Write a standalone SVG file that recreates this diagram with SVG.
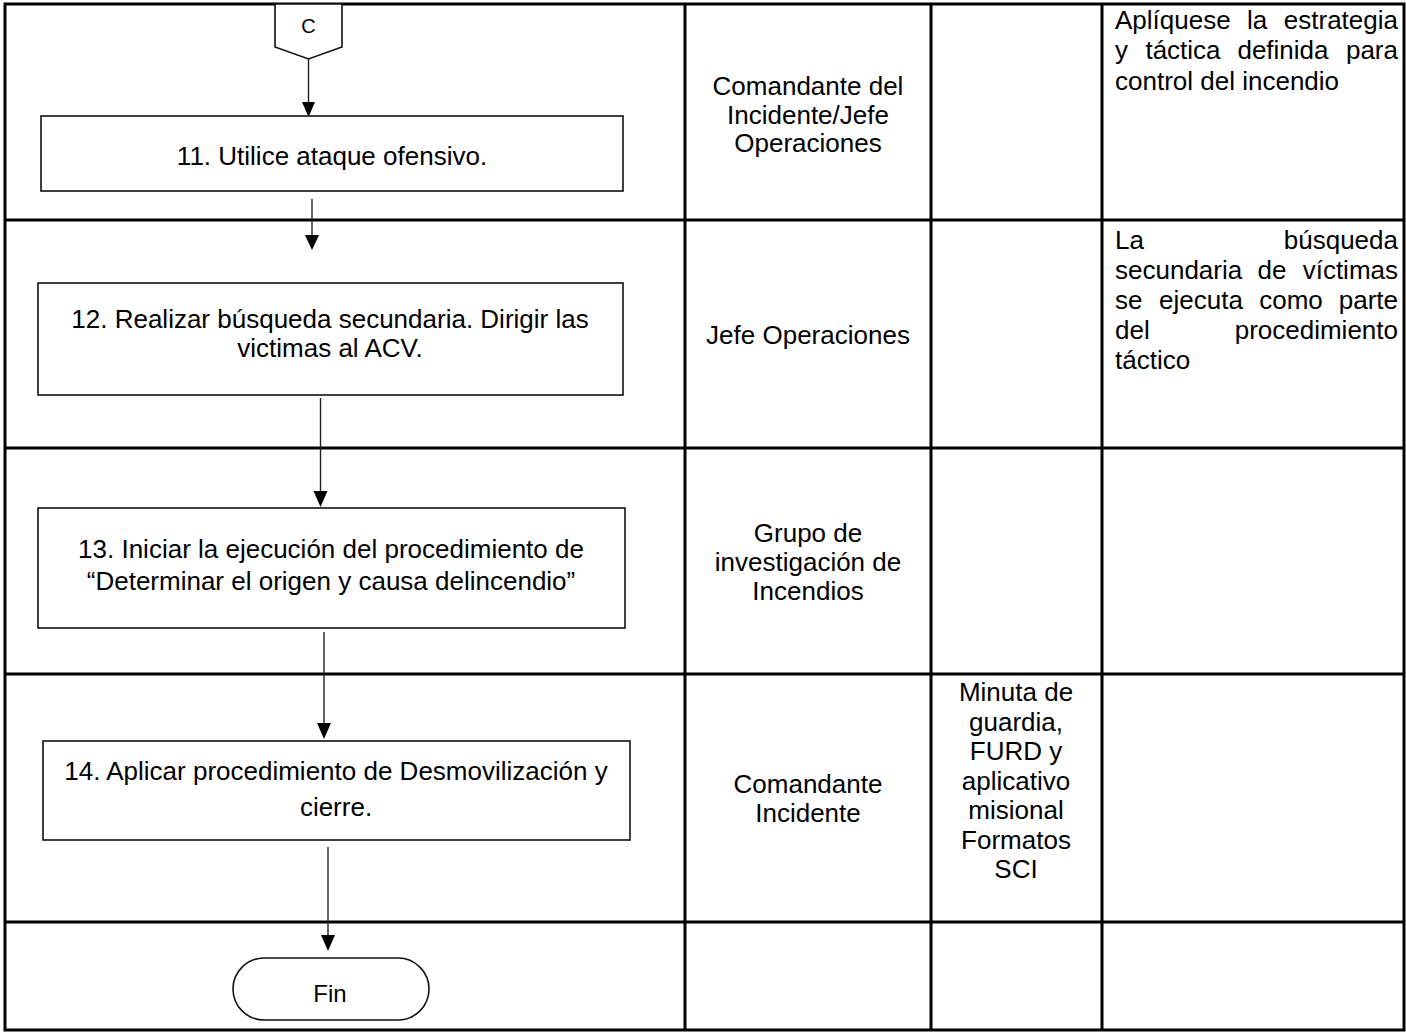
<svg xmlns="http://www.w3.org/2000/svg" width="1406" height="1032" viewBox="0 0 1406 1032">
<style>
text{font-family:"Liberation Sans",Arial,sans-serif;font-size:26px;fill:#000}
.c{text-anchor:middle}
.e{text-anchor:end}
.grid{stroke:#000;stroke-width:3;fill:none}
.box{fill:#fff;stroke:#111;stroke-width:1.6}
.ln{stroke:#222;stroke-width:1.4;fill:none}
.ah{fill:#000}
</style>
<rect width="1406" height="1032" fill="#fff"/>
<g id="table">
<rect class="grid" x="5" y="4" width="1399" height="1026"/>
<line class="grid" x1="685" y1="4" x2="685" y2="1030"/>
<line class="grid" x1="931" y1="4" x2="931" y2="1030"/>
<line class="grid" x1="1102" y1="4" x2="1102" y2="1030"/>
<line class="grid" x1="5" y1="220" x2="1404" y2="220"/>
<line class="grid" x1="5" y1="448" x2="1404" y2="448"/>
<line class="grid" x1="5" y1="674" x2="1404" y2="674"/>
<line class="grid" x1="5" y1="922" x2="1404" y2="922"/>
</g>
<g id="connectors">
<line class="ln" x1="308.5" y1="59" x2="308.5" y2="102"/>
<polygon class="ah" points="302,102 315,102 308.5,117"/>
<line class="ln" x1="312" y1="199" x2="312" y2="235"/>
<polygon class="ah" points="305,235 319,235 312,250"/>
<line class="ln" x1="320.5" y1="398" x2="320.5" y2="491"/>
<polygon class="ah" points="313.5,491 327.5,491 320.5,507"/>
<line class="ln" x1="324" y1="632" x2="324" y2="723"/>
<polygon class="ah" points="317,723 331,723 324,739"/>
<line class="ln" x1="328" y1="847" x2="328" y2="935"/>
<polygon class="ah" points="321,935 335,935 328,951"/>
</g>
<g id="nodeC">
<polygon points="275,4 342,4 342,47 308.5,59 275,47" fill="#fff" stroke="#111" stroke-width="1.6"/>
<text class="c" x="308.5" y="33" style="font-size:20px">C</text>
</g>
<g id="step11">
<rect class="box" x="41" y="116" width="582" height="75"/>
<text class="c" x="332" y="165">11. Utilice ataque ofensivo.</text>
</g>
<g id="step12">
<rect class="box" x="38" y="283" width="585" height="112"/>
<text class="c" x="330" y="328">12. Realizar búsqueda secundaria. Dirigir las</text>
<text class="c" x="330" y="357">victimas al ACV.</text>
</g>
<g id="step13">
<rect class="box" x="38" y="508" width="587" height="120"/>
<text class="c" x="331" y="558">13. Iniciar la ejecución del procedimiento de</text>
<text class="c" x="331" y="590">“Determinar el origen y causa delincendio”</text>
</g>
<g id="step14">
<rect class="box" x="43" y="741" width="587" height="99"/>
<text class="c" x="336" y="780">14. Aplicar procedimiento de Desmovilización y</text>
<text class="c" x="336" y="816">cierre.</text>
</g>
<g id="fin">
<rect x="233" y="958" width="196" height="62" rx="31" ry="31" fill="#fff" stroke="#111" stroke-width="1.6"/>
<text class="c" x="330" y="1002" style="font-size:24px">Fin</text>
</g>
<g id="resp">
<text class="c" x="808" y="95">Comandante del</text>
<text class="c" x="808" y="124">Incidente/Jefe</text>
<text class="c" x="808" y="152">Operaciones</text>
<text class="c" x="808" y="344">Jefe Operaciones</text>
<text class="c" x="808" y="542">Grupo de</text>
<text class="c" x="808" y="571">investigación de</text>
<text class="c" x="808" y="600">Incendios</text>
<text class="c" x="808" y="793">Comandante</text>
<text class="c" x="808" y="822">Incidente</text>
</g>
<g id="registros">
<text class="c" x="1016" y="701">Minuta de</text>
<text class="c" x="1016" y="731">guardia,</text>
<text class="c" x="1016" y="760">FURD y</text>
<text class="c" x="1016" y="790">aplicativo</text>
<text class="c" x="1016" y="819">misional</text>
<text class="c" x="1016" y="849">Formatos</text>
<text class="c" x="1016" y="878">SCI</text>
</g>
<g id="observaciones">
<text x="1115" y="29">Aplíquese</text>
<text class="c" x="1257" y="29">la</text>
<text class="e" x="1398" y="29">estrategia</text>
<text x="1115" y="59">y</text>
<text class="c" x="1183" y="59">táctica</text>
<text class="c" x="1283" y="59">definida</text>
<text class="e" x="1398" y="59">para</text>
<text x="1115" y="90">control del incendio</text>
<text x="1115" y="249">La</text>
<text class="e" x="1398" y="249">búsqueda</text>
<text x="1115" y="279">secundaria</text>
<text class="c" x="1272" y="279">de</text>
<text class="e" x="1398" y="279">víctimas</text>
<text x="1115" y="309">se</text>
<text class="c" x="1201" y="309">ejecuta</text>
<text class="c" x="1291" y="309">como</text>
<text class="e" x="1398" y="309">parte</text>
<text x="1115" y="339">del</text>
<text class="e" x="1398" y="339">procedimiento</text>
<text x="1115" y="369">táctico</text>
</g>
</svg>
